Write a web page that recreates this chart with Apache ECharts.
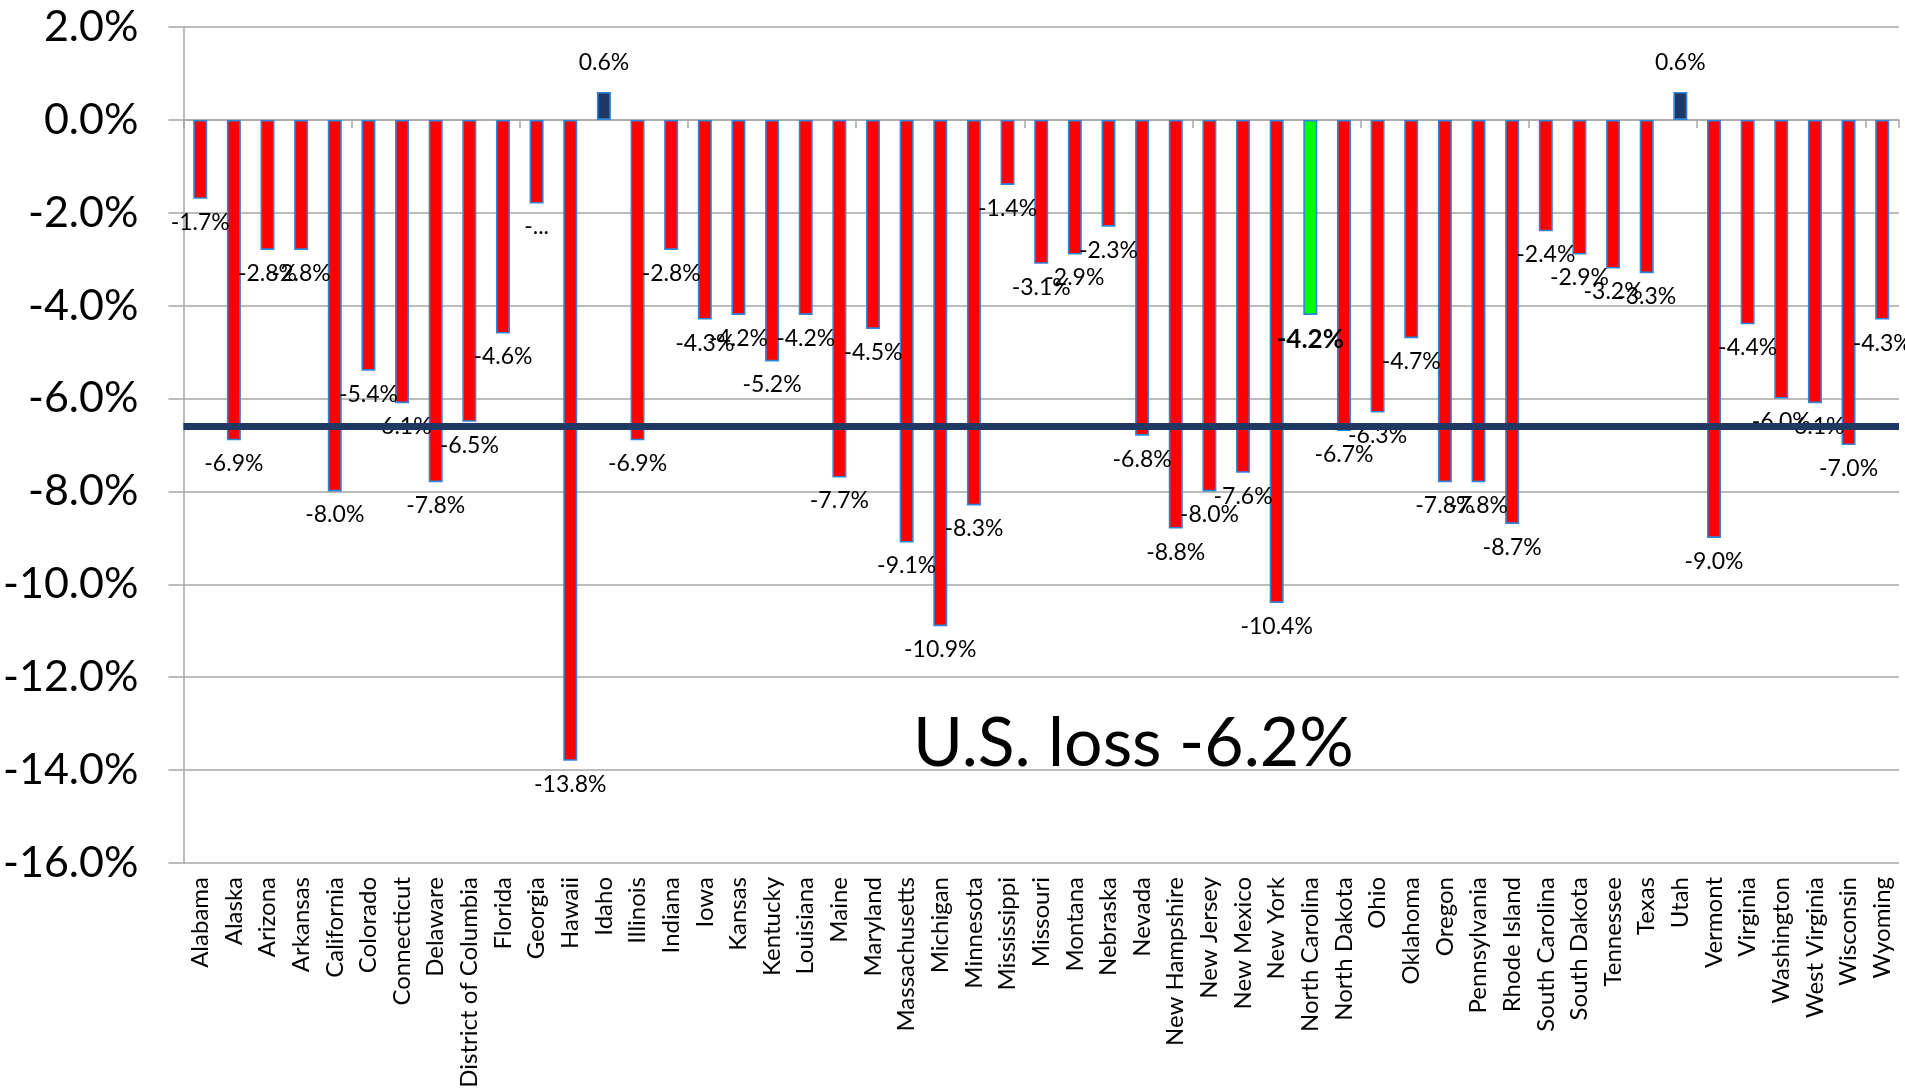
<!DOCTYPE html>
<html>
<head>
<meta charset="utf-8">
<script src="https://cdn.jsdelivr.net/npm/echarts@6/dist/echarts.min.js"></script>
<style>
html,body{margin:0;padding:0;background:#ffffff;}
#chart{width:1905px;height:1091px;}
</style>
</head>
<body>
<div id="chart"></div>
<script>
// ---- data ----
const states = ['Alabama','Alaska','Arizona','Arkansas','California','Colorado','Connecticut','Delaware','District of Columbia','Florida','Georgia','Hawaii','Idaho','Illinois','Indiana','Iowa','Kansas','Kentucky','Louisiana','Maine','Maryland','Massachusetts','Michigan','Minnesota','Mississippi','Missouri','Montana','Nebraska','Nevada','New Hampshire','New Jersey','New Mexico','New York','North Carolina','North Dakota','Ohio','Oklahoma','Oregon','Pennsylvania','Rhode Island','South Carolina','South Dakota','Tennessee','Texas','Utah','Vermont','Virginia','Washington','West Virginia','Wisconsin','Wyoming'];
const changePct = [-1.7,-6.9,-2.8,-2.8,-8.0,-5.4,-6.1,-7.8,-6.5,-4.6,-1.8,-13.8,0.6,-6.9,-2.8,-4.3,-4.2,-5.2,-4.2,-7.7,-4.5,-9.1,-10.9,-8.3,-1.4,-3.1,-2.9,-2.3,-6.8,-8.8,-8.0,-7.6,-10.4,-4.2,-6.7,-6.3,-4.7,-7.8,-7.8,-8.7,-2.4,-2.9,-3.2,-3.3,0.6,-9.0,-4.4,-6.0,-6.1,-7.0,-4.3];
const highlightState = 'North Carolina';
const labelOverrides = { 'Georgia': '-...' };
const averageLineValue = -6.6;
const annotationText = 'U.S. loss -6.2%';
const yMin = -16, yMax = 2, yStep = 2;

// ---- styles ----
const FONT = 'Lato, "Open Sans", sans-serif';
const RED = '#FF0000', NAVY = '#1F3864', GREEN = '#00FF00', EDGE = '#2F86D6';
const GRIDC = '#A6A6A6';

const barData = changePct.map((v, i) => {
  const st = states[i];
  const isHi = st === highlightState;
  const fill = isHi ? GREEN : (v > 0 ? NAVY : RED);
  return {
    value: v,
    itemStyle: { color: fill, borderColor: EDGE, borderWidth: 1.6 },
    label: {
      distance: v > 0 ? 18 : 12,
      fontWeight: isHi ? 'bold' : 'normal',
      fontSize: isHi ? 26 : 23
    }
  };
});

const chart = echarts.init(document.getElementById('chart'), null, { renderer: 'canvas' });
chart.setOption({
  animation: false,
  backgroundColor: '#ffffff',
  title: {
    text: annotationText,
    left: 908,
    top: 705,
    textStyle: { fontFamily: FONT, fontSize: 68, fontWeight: 'normal', color: '#000' }
  },
  grid: { left: 183, right: 6, top: 27, bottom: 228, containLabel: false },
  xAxis: [
    {
      type: 'category',
      data: states,
      position: 'bottom',
      axisLine: { show: false, onZero: false },
      axisTick: { show: false },
      axisLabel: {
        rotate: 90, margin: 14, interval: 0,
        fontFamily: FONT, fontSize: 24, color: '#000'
      },
      splitLine: { show: false }
    },
    {
      type: 'category',
      data: states,
      position: 'bottom',
      axisLine: { show: true, onZero: true, lineStyle: { color: GRIDC, width: 1.5 } },
      axisTick: { show: true, length: 8, lineStyle: { color: GRIDC, width: 1.5 } },
      axisLabel: { show: false },
      splitLine: { show: false }
    }
  ],
  yAxis: {
    type: 'value',
    min: yMin, max: yMax, interval: yStep,
    axisLine: { show: true, lineStyle: { color: GRIDC, width: 1.5 } },
    axisTick: { show: true, length: 15, lineStyle: { color: GRIDC, width: 1.5 } },
    splitLine: { show: true, lineStyle: { color: GRIDC, width: 1.5 } },
    axisLabel: {
      margin: 45,
      fontFamily: FONT, fontSize: 43, color: '#000',
      formatter: v => v.toFixed(1) + '%'
    }
  },
  series: [{
    type: 'bar',
    xAxisIndex: 0,
    yAxisIndex: 0,
    barWidth: 14,
    data: barData,
    label: {
      show: true,
      position: 'outside',
      fontFamily: FONT,
      fontSize: 23,
      color: '#000',
      formatter: p => labelOverrides[p.name] !== undefined ? labelOverrides[p.name] : p.value.toFixed(1) + '%'
    },
    markLine: {
      silent: true,
      symbol: ['none', 'none'],
      label: { show: false },
      lineStyle: { color: NAVY, width: 7, type: 'solid' },
      data: [{ yAxis: averageLineValue }]
    }
  }]
});
</script>
</body>
</html>
